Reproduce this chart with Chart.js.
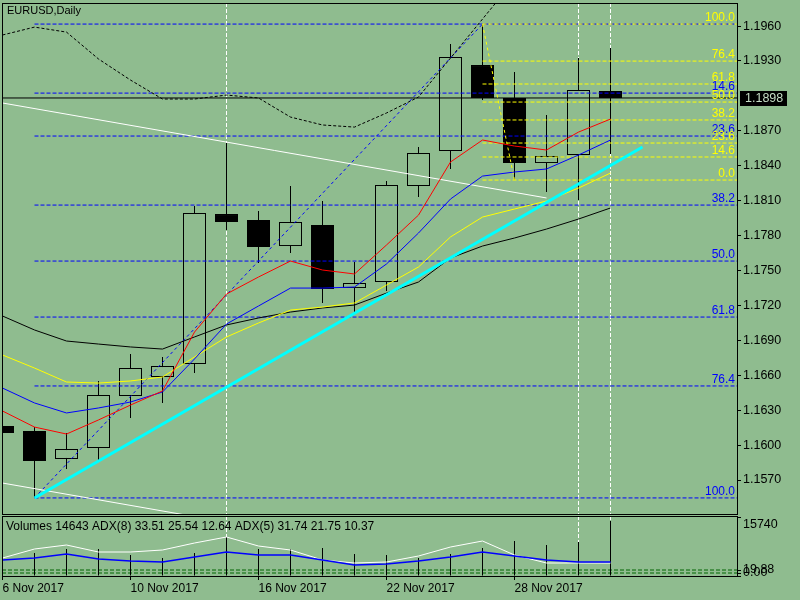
<!DOCTYPE html>
<html>
<head>
<meta charset="utf-8">
<title>EURUSD,Daily</title>
<script src="https://cdn.jsdelivr.net/npm/chart.js@4.4.1/dist/chart.umd.min.js"></script>
<style>
  html, body { margin: 0; padding: 0; background: #8fbc8f; }
  #wrap { position: relative; width: 800px; height: 600px; overflow: hidden; }
  canvas { position: absolute; left: 0; }
  #main { top: 0; }
  #sub { top: 515px; }
</style>
</head>
<body>
<div id="wrap">
  <canvas id="main" width="800" height="515"></canvas>
  <canvas id="sub" width="800" height="85"></canvas>
</div>
<script>
/* ---- values: EURUSD daily, 6 Nov – 1 Dec 2017 ---- */
const title = 'EURUSD,Daily';
const dates = ['6 Nov 2017', '7 Nov 2017', '8 Nov 2017', '9 Nov 2017', '10 Nov 2017',
  '13 Nov 2017', '14 Nov 2017', '15 Nov 2017', '16 Nov 2017', '17 Nov 2017',
  '20 Nov 2017', '21 Nov 2017', '22 Nov 2017', '23 Nov 2017', '24 Nov 2017',
  '27 Nov 2017', '28 Nov 2017', '29 Nov 2017', '30 Nov 2017', '1 Dec 2017'];

const open  = [1.16164, 1.16121, 1.15881, 1.15975, 1.16422, 1.16585, 1.16697, 1.17985, 1.17934, 1.17710,
               1.17891, 1.17349, 1.17401, 1.18226, 1.18526, 1.19265, 1.18982, 1.18423, 1.18492, 1.19042];
const high  = [1.16180, 1.16155, 1.16104, 1.16551, 1.16782, 1.16757, 1.18054, 1.18595, 1.18011, 1.18226,
               1.18097, 1.17573, 1.18269, 1.18561, 1.19445, 1.19617, 1.19205, 1.18835, 1.19325, 1.19411];
const low   = [1.16090, 1.15546, 1.15795, 1.15872, 1.16233, 1.16362, 1.16619, 1.17848, 1.17564, 1.17650,
               1.17221, 1.17143, 1.17324, 1.18131, 1.18372, 1.18964, 1.18277, 1.18174, 1.18105, 1.18500];
const close = [1.16104, 1.15863, 1.15966, 1.16430, 1.16662, 1.16679, 1.17994, 1.17916, 1.17702, 1.17916,
               1.17341, 1.17392, 1.18234, 1.18509, 1.19334, 1.18982, 1.18423, 1.18483, 1.19050, 1.18982];

const maRed    = [1.16293, 1.16155, 1.16095, 1.16216, 1.16344, 1.16465, 1.16971, 1.17298, 1.17444, 1.17581,
                  1.17504, 1.17470, 1.17719, 1.17976, 1.18432, 1.18621, 1.18569, 1.18535, 1.18689, 1.18801];
const maBlue   = [1.16490, 1.16362, 1.16276, 1.16319, 1.16370, 1.16456, 1.16740, 1.17040, 1.17195, 1.17349,
                  1.17349, 1.17358, 1.17556, 1.17822, 1.18114, 1.18311, 1.18346, 1.18372, 1.18492, 1.18621];
const maYellow = [1.16774, 1.16662, 1.16542, 1.16533, 1.16551, 1.16585, 1.16757, 1.16929, 1.17049, 1.17160,
                  1.17186, 1.17221, 1.17375, 1.17530, 1.17788, 1.17959, 1.18028, 1.18097, 1.18208, 1.18337];
const maBlack  = [1.17109, 1.16989, 1.16894, 1.16868, 1.16843, 1.16825, 1.16929, 1.17032, 1.17092, 1.17143,
                  1.17178, 1.17203, 1.17306, 1.17401, 1.17607, 1.17710, 1.17779, 1.17856, 1.17942, 1.18037];
const upperBand = [1.19523, 1.19591, 1.19548, 1.19317, 1.19136, 1.18973, 1.18973, 1.19007, 1.18982, 1.18818,
                   1.18750, 1.18732, 1.18853, 1.18990, 1.19325, 1.19660, 1.19995, null, null, null];

// trend lines: [bar index, price] end points
const cyanTrend   = [[1, 1.15546], [20, 1.18561]];
const blueFibLine = [[1, 1.15546], [15, 1.19617]];
const yellowFibLine = [[15, 1.19617], [16, 1.18277]];
const whiteUpper  = [[0, 1.18939], [17, 1.18123]];
const whiteLower  = [[0, 1.15674], [17, 1.14858]];

const blueFibStart = 1;
const blueFibLevels = [1.19617, 1.19024, 1.18655, 1.18062, 1.17581, 1.17100, 1.16508, 1.15546];
const blueFibLabels = ['', '14.6', '23.6', '38.2', '50.0', '61.8', '76.4', '100.0'];
const yellowFibStart = 15;
const yellowFibLevels = [1.19617, 1.19299, 1.19102, 1.18947, 1.18793, 1.18595, 1.18475, 1.18277];
const yellowFibLabels = ['100.0', '76.4', '61.8', '50.0', '38.2', '23.6', '14.6', '0.0'];

const priceTicks = [1.1570, 1.1600, 1.1630, 1.1660, 1.1690, 1.1720, 1.1750, 1.1780, 1.1810,
                    1.1840, 1.1870, 1.1930, 1.1960];
const dateTicks = ['6 Nov 2017', '10 Nov 2017', '16 Nov 2017', '22 Nov 2017', '28 Nov 2017'];
const separatorDates = ['15 Nov 2017', '30 Nov 2017', '1 Dec 2017'];

const volume = [null, 6140, 7200, 7210, 5600, 4800, 6130, 10400, 7190, 7220,
                7470, 5870, 5610, 4790, 5880, 7460, 9340, 8270, 9070, 14643];
const adx8  = [43.2, 64.8, 74.4, 57.6, 57.6, 62.4, 79.2, 93.6, 72.0, 62.4,
               38.4, 31.2, 33.6, 48.0, 69.6, 84.0, 50.4, 31.2, 31.2, 31.0];
const adx5  = [38.4, 43.2, 52.8, 40.8, 36.0, 33.6, 45.6, 57.6, 50.4, 50.4,
               38.4, 26.4, 28.8, 36.0, 45.6, 57.6, 48.0, 38.4, 33.6, 33.6];
const adxLevels = [14.4, 7.2];
const adx8Last = [33.51, 25.54, 12.64];
const adx5Last = [31.74, 21.75, 10.37];
const volAxisTicks  = [0, 800, 1600, 15740];
const volAxisLabels = ['', '0.00', '19.88', ['', '15740']];

/* ---- view settings ---- */
const BG = '#8fbc8f';
const FONT = '"Liberation Sans", Arial, sans-serif';
const X_MIN = -1 / 64;
const X_MAX = X_MIN + 735 / 32;
const Y_MIN = 1.15408, Y_MAX = 1.19798;
const VOL_MAX = 16007, ADX_MAX = 144;
const bid = close[close.length - 1];

Chart.defaults.font.family = FONT;
Chart.defaults.color = '#000';

const sepBars = separatorDates.map(d => dates.indexOf(d));
const tickBars = dateTicks.map(d => dates.indexOf(d));

const series = arr => arr.map((v, k) => ({x: k, y: v}));
const segment = pts => pts.map(([x, y]) => ({x, y}));
const levels = (start, lv) => lv.flatMap(v => [{x: start, y: v}, {x: X_MAX, y: v}, {x: X_MAX, y: null}]);
const line = (data, color, extra) => Object.assign(
  {type: 'line', data, borderColor: color, borderWidth: 1, pointRadius: 0, tension: 0, fill: false}, extra);
// list is bottom -> top; Chart.js paints higher order first
const layered = list => list.map((ds, i) => Object.assign(ds, {order: list.length - i}));

function noPad(s) { s.paddingLeft = s.paddingRight = s.paddingTop = s.paddingBottom = 0; }

const frame = {
  id: 'frame',
  afterDraw(chart) {
    const {ctx, chartArea: a} = chart;
    ctx.save();
    ctx.strokeStyle = '#000';
    ctx.lineWidth = 1;
    ctx.strokeRect(a.left + 0.5, a.top + 0.5, a.right - a.left, a.bottom - a.top);
    ctx.restore();
  }
};

const mainText = {
  id: 'mainText',
  afterDraw(chart) {
    const {ctx, chartArea: a, scales: {y}} = chart;
    ctx.save();
    ctx.fillStyle = '#000';
    ctx.font = '11px ' + FONT;
    ctx.textBaseline = 'top';
    ctx.fillText(title, a.left + 5, a.top + 2);

    ctx.font = '12px ' + FONT;
    ctx.textAlign = 'right';
    ctx.textBaseline = 'alphabetic';
    [[blueFibLevels, blueFibLabels, '#0000ff'], [yellowFibLevels, yellowFibLabels, '#ffff00']].forEach(([lv, lb, col]) => {
      ctx.fillStyle = col;
      lv.forEach((v, i) => ctx.fillText(lb[i], a.right - 2, y.getPixelForValue(v) - 3));
    });

    const py = Math.round(y.getPixelForValue(bid));
    ctx.fillStyle = '#000';
    ctx.fillRect(a.right + 3, py - 7, 47, 15);
    ctx.fillStyle = '#c4dcc4';
    ctx.font = '12.5px ' + FONT;
    ctx.textAlign = 'left';
    ctx.textBaseline = 'middle';
    ctx.fillText(bid.toFixed(4), a.right + 8, py + 1);
    ctx.restore();
  }
};

const subText = {
  id: 'subText',
  afterDraw(chart) {
    const {ctx, chartArea: a} = chart;
    const fmt = arr => arr.map(v => v.toFixed(2)).join(' ');
    ctx.save();
    ctx.fillStyle = '#000';
    ctx.font = '12px ' + FONT;
    ctx.textBaseline = 'middle';
    ctx.fillText(`Volumes ${volume[volume.length - 1]} ADX(8) ${fmt(adx8Last)} ADX(5) ${fmt(adx5Last)}`, a.left + 4, a.top + 11);
    ctx.restore();
  }
};

const common = {
  responsive: false, animation: false, devicePixelRatio: 1, events: [],
  plugins: {legend: {display: false}, tooltip: {enabled: false}},
};

/* ---- price window ---- */
new Chart(document.getElementById('main'), {
  type: 'bar',
  data: {
    datasets: layered([
      {data: low.map((l, k) => ({x: k, y: [l, high[k]]})), backgroundColor: '#000',
       barThickness: 1, grouped: false, borderWidth: 0, inflateAmount: 0},
      {data: open.map((o, k) => ({x: k, y: [o, close[k]]})),
       backgroundColor: close.map((c, k) => c >= open[k] ? BG : '#000'),
       borderColor: '#000', borderWidth: 1, borderSkipped: false,
       barThickness: 23, grouped: false, inflateAmount: 0},
      line(segment([[X_MIN, bid], [X_MAX, bid]]), '#000'),
      line(levels(blueFibStart, blueFibLevels), '#0000ff', {borderDash: [4, 2]}),
      line(levels(yellowFibStart, yellowFibLevels), '#ffff00', {borderDash: [4, 2]}),
      line(segment(blueFibLine), '#0000ff', {borderDash: [3, 3]}),
      line(segment(yellowFibLine), '#ffff00', {borderDash: [3, 3]}),
      line(series(upperBand), '#000', {borderDash: [3, 2]}),
      line(segment(whiteUpper), '#ffffff'),
      line(segment(whiteLower), '#ffffff'),
      line(series(maBlack), '#000'),
      line(series(maYellow), '#ffff00'),
      line(series(maBlue), '#0000ff'),
      line(series(maRed), '#ff0000'),
      line(segment(cyanTrend), '#00ffff', {borderWidth: 3}),
    ])
  },
  options: Object.assign({}, common, {
    layout: {padding: {left: 2, top: 3, right: 0, bottom: 1}},
    scales: {
      x: {
        type: 'linear', min: X_MIN, max: X_MAX, offset: false,
        ticks: {display: false},
        grid: {color: '#ffffff', drawTicks: false, offset: false},
        border: {display: false, dash: [4, 2]},
        afterBuildTicks: s => { s.ticks = sepBars.map(v => ({value: v})); },
        afterFit: s => { s.height = 0; noPad(s); },
      },
      y: {
        type: 'linear', position: 'right', min: Y_MIN, max: Y_MAX,
        ticks: {font: {size: 12.5}, color: '#000', padding: 2, autoSkip: false, callback: v => v.toFixed(4)},
        grid: {drawOnChartArea: false, color: '#000', tickLength: 4},
        border: {color: '#000'},
        afterBuildTicks: s => { s.ticks = priceTicks.map(v => ({value: v})); },
        afterFit: s => { s.width = 63; noPad(s); },
      },
    },
  }),
  plugins: [frame, mainText],
});

/* ---- volumes / ADX window ---- */
new Chart(document.getElementById('sub'), {
  type: 'bar',
  data: {
    datasets: layered([
      line(levels(X_MIN, adxLevels), '#006400', {yAxisID: 'yAdx', borderDash: [4, 2]}),
      {data: series(volume), backgroundColor: '#000', barThickness: 1, grouped: false,
       borderWidth: 0, inflateAmount: 0},
      line(series(adx8), '#ffffff', {yAxisID: 'yAdx'}),
      line(series(adx5), '#0000ff', {yAxisID: 'yAdx', borderWidth: 1.5}),
    ])
  },
  options: Object.assign({}, common, {
    layout: {padding: {left: 2, top: 1, right: 0, bottom: 0}},
    scales: {
      x: {
        type: 'linear', min: X_MIN, max: X_MAX, offset: false,
        ticks: {font: {size: 12}, color: '#000', padding: 1, align: 'start', autoSkip: false,
                maxRotation: 0, callback: v => dates[Math.round(v)]},
        grid: {drawOnChartArea: false, color: '#000', tickLength: 4, offset: false},
        border: {color: '#000'},
        afterBuildTicks: s => { s.ticks = tickBars.map(v => ({value: v})); },
        afterFit: s => { s.height = 24; noPad(s); },
      },
      xSep: {
        type: 'linear', position: 'top', min: X_MIN, max: X_MAX, offset: false,
        ticks: {display: false},
        grid: {color: '#ffffff', drawTicks: false, offset: false},
        border: {display: false, dash: [4, 2]},
        afterBuildTicks: s => { s.ticks = sepBars.map(v => ({value: v})); },
        afterFit: s => { s.height = 0; noPad(s); },
      },
      y: {
        type: 'linear', position: 'right', min: 0, max: VOL_MAX,
        ticks: {font: {size: 12.5}, color: '#000', padding: 2, autoSkip: false,
                callback: (v, i) => volAxisLabels[i]},
        grid: {drawOnChartArea: false, color: '#000', tickLength: 4},
        border: {color: '#000'},
        afterBuildTicks: s => { s.ticks = volAxisTicks.map(v => ({value: v})); },
        afterFit: s => { s.width = 63; noPad(s); },
      },
      yAdx: {type: 'linear', display: false, min: 0, max: ADX_MAX},
    },
  }),
  plugins: [frame, subText],
});
</script>
</body>
</html>
